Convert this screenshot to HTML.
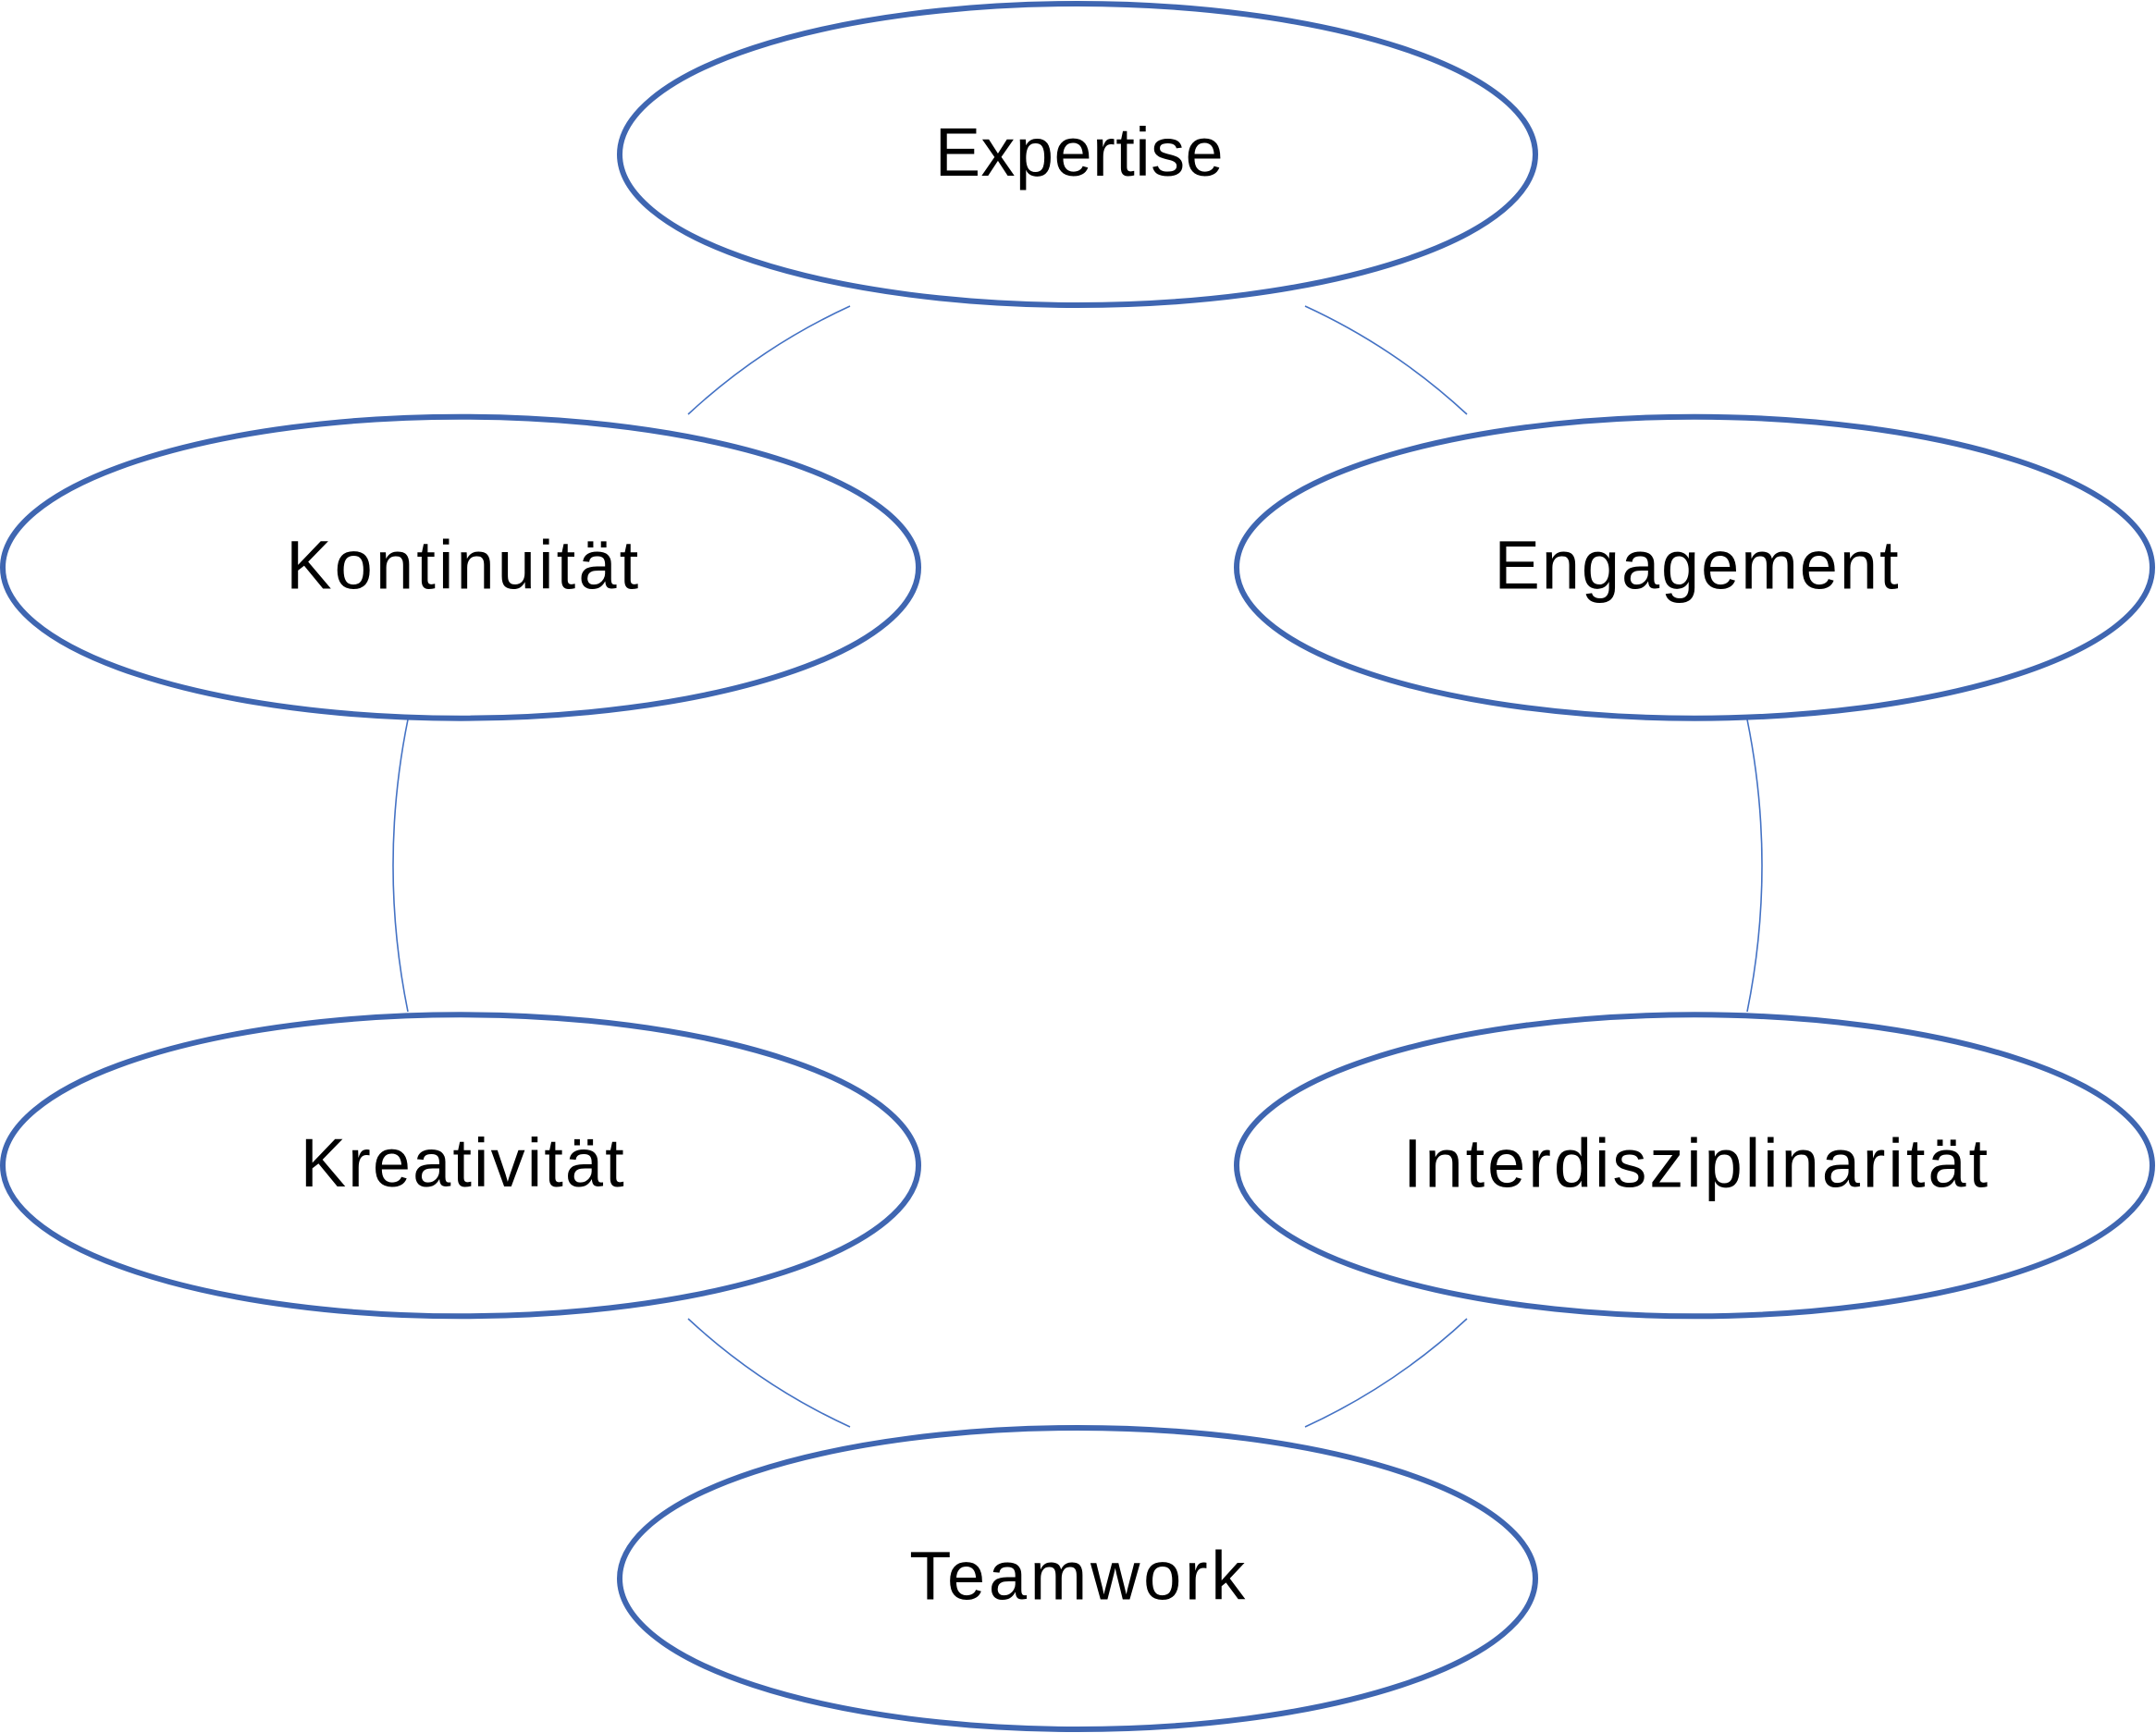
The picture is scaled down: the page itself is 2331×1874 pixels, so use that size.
<!DOCTYPE html>
<html>
<head>
<meta charset="utf-8">
<style>
  html, body { margin: 0; padding: 0; background: #ffffff; }
  body { width: 2331px; height: 1874px; overflow: hidden; }
  svg { display: block; }
  text { font-family: "Liberation Sans", "DejaVu Sans", sans-serif; font-size: 74px; fill: #000000; }
</style>
</head>
<body>
<svg width="2331" height="1874" viewBox="0 0 2331 1874" xmlns="http://www.w3.org/2000/svg">
  <rect x="0" y="0" width="2331" height="1874" fill="#ffffff"/>

  <!-- connectors -->
  <g fill="none" stroke="#4472C4" stroke-width="1.6">
    <path d="M919,331 Q822,375.5 744,448"/>
    <path d="M1411,331 Q1508,375.5 1586,448"/>
    <path d="M441,778 Q409,936 441,1094"/>
    <path d="M1889,778 Q1921,936 1889,1094"/>
    <path d="M744,1426 Q822,1498.5 919,1543"/>
    <path d="M1586,1426 Q1508,1498.5 1411,1543"/>
  </g>

  <!-- ellipses -->
  <g fill="#ffffff" stroke="#3F66B1" stroke-width="6">
    <ellipse cx="1165" cy="167" rx="495" ry="163"/>
    <ellipse cx="498" cy="613.7" rx="495" ry="163"/>
    <ellipse cx="1832" cy="613.7" rx="495" ry="163"/>
    <ellipse cx="498" cy="1260.3" rx="495" ry="163"/>
    <ellipse cx="1832" cy="1260.3" rx="495" ry="163"/>
    <ellipse cx="1165" cy="1707" rx="495" ry="163"/>
  </g>

  <!-- labels -->
  <text x="1166.7" y="190" text-anchor="middle" textLength="312" lengthAdjust="spacing">Expertise</text>
  <text x="499.7" y="636.7" text-anchor="middle" textLength="381" lengthAdjust="spacing">Kontinuität</text>
  <text x="1834" y="636.7" text-anchor="middle" textLength="437" lengthAdjust="spacing">Engagement</text>
  <text x="499.7" y="1283.2" text-anchor="middle" textLength="350" lengthAdjust="spacing">Kreativität</text>
  <text x="1833" y="1283.3" text-anchor="middle" textLength="632" lengthAdjust="spacing">Interdisziplinarität</text>
  <text x="1164.8" y="1729.6" text-anchor="middle" textLength="363" lengthAdjust="spacing">Teamwork</text>
</svg>
</body>
</html>
